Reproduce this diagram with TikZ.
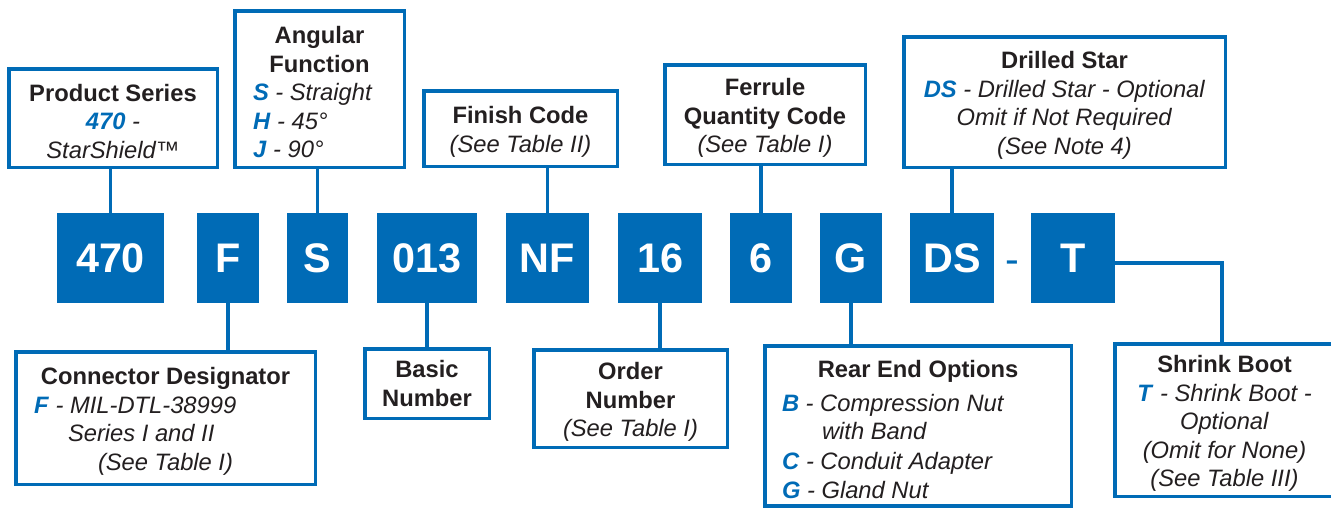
\documentclass[tikz,border=0pt]{standalone}
\usepackage{fontspec}
\setmainfont{Liberation Sans}
\usepackage{xcolor}
\usetikzlibrary{positioning}
\newlength{\pxu}
\setlength{\pxu}{0.75pt}
\definecolor{codeblue}{RGB}{0,107,182}
\definecolor{inkgray}{RGB}{35,31,32}
\newcommand{\opt}[1]{\textcolor{codeblue}{\textbf{\textit{#1}}}}
\newcommand{\topstrut}{\rule{0pt}{18pt}}
\tikzset{
  every picture/.style = {
    x = 0.75pt,
    y = -0.75pt,
  }
  , % blue code boxes
  code/.style = {
    rectangle,
    fill = codeblue,
    text = white,
    font = \fontsize{31}{31}\selectfont\bfseries,
    minimum height = 90\pxu,
    inner sep = 0pt
  }
  , % description boxes
  field/.style = {
    rectangle,
    draw = codeblue,
    line width = 3.5\pxu,
    fill = white,
    text = inkgray,
    align = center,
    font = \fontsize{17.8}{21.4}\selectfont,
    inner sep = 0pt
  }
  ,
  link/.style = {
    draw = codeblue,
    line width = 3.5\pxu
  }
}

\begin{document}
\begin{tikzpicture}
    \useasboundingbox[fill=white] (0,0) rectangle (1331,508);

    % part number
    \node [code, minimum width=107\pxu] (c470) at (110.5,258) {470};
    \node [code, minimum width=62\pxu]  (cF)   at (228,258)   {F};
    \node [code, minimum width=61\pxu]  (cS)   at (317.5,258) {S};
    \node [code, minimum width=100\pxu] (c013) at (427,258)   {013};
    \node [code, minimum width=83\pxu]  (cNF)  at (547.5,258) {NF};
    \node [code, minimum width=84\pxu]  (c16)  at (660,258)   {16};
    \node [code, minimum width=62\pxu]  (c6)   at (761,258)   {6};
    \node [code, minimum width=62\pxu]  (cG)   at (851,258)   {G};
    \node [code, minimum width=84\pxu]  (cDS)  at (952,258)   {DS};
    \node [code, minimum width=84\pxu]  (cT)   at (1073,258)  {T};
    \node [anchor=base, text=codeblue, font=\fontsize{31}{31}\selectfont, inner sep=0pt]
        (sep) at (1012.5,273) {-};

    % upper fields
    \node [field, minimum width=208.5\pxu, minimum height=98.5\pxu] (series) at (113,118)
        {\topstrut\textbf{Product Series}\\ \opt{470} \textit{-}\\ \textit{StarShield™}};
    \node [field, minimum width=169.5\pxu, minimum height=156.5\pxu] (angle) at (319.5,89)
        {\topstrut\textbf{Angular}\\ \textbf{Function}\\
         \makebox[133\pxu][l]{\opt{S} \textit{- Straight}}\\
         \makebox[133\pxu][l]{\opt{H} \textit{- 45°}}\\
         \makebox[133\pxu][l]{\opt{J} \textit{- 90°}}};
    \node [field, minimum width=193.5\pxu, minimum height=75.5\pxu] (finish) at (520.5,128.5)
        {\topstrut\textbf{Finish Code}\\ \textit{(See Table II)}};
    \node [field, minimum width=200.5\pxu, minimum height=99.5\pxu] (ferrule) at (765,114.5)
        {\topstrut\textbf{Ferrule}\\ \textbf{Quantity Code}\\ \textit{(See Table I)}};
    \node [field, minimum width=321.5\pxu, minimum height=130.5\pxu] (star) at (1064.5,102)
        {\topstrut\textbf{Drilled Star}\\ \opt{DS} \textit{- Drilled Star - Optional}\\
         \textit{Omit if Not Required}\\ \textit{(See Note 4)}};

    % lower fields
    \node [field, minimum width=299.5\pxu, minimum height=132.5\pxu] (design) at (165.5,418)
        {\topstrut\textbf{Connector Designator}\\
         \makebox[263\pxu][l]{\opt{F} \textit{- MIL-DTL-38999}}\\
         \makebox[263\pxu][l]{\hspace{34\pxu}\textit{Series I and II}}\\
         \makebox[263\pxu][l]{\hspace{64\pxu}\textit{(See Table I)}}};
    \node [field, minimum width=124.5\pxu, minimum height=69.5\pxu] (basic) at (427,383.5)
        {\textbf{Basic}\\ \textbf{Number}};
    \node [field, minimum width=193.5\pxu, minimum height=97.5\pxu] (order) at (630.5,398.5)
        {\topstrut\textbf{Order}\\ \textbf{Number}\\ \textit{(See Table I)}};
    \node [field, minimum width=306.5\pxu, minimum height=160\pxu] (rear) at (918,426)
        {\topstrut\textbf{Rear End Options}\\[5\pxu]
         \makebox[272\pxu][l]{\opt{B} \textit{- Compression Nut}}\\
         \makebox[272\pxu][l]{\hspace{40\pxu}\textit{with Band}}\\[1.5\pxu]
         \makebox[272\pxu][l]{\opt{C} \textit{- Conduit Adapter}}\\
         \makebox[272\pxu][l]{\opt{G} \textit{- Gland Nut}}};
    \node [field, minimum width=219.5\pxu, minimum height=152.5\pxu] (boot) at (1224.5,420)
        {\topstrut\textbf{Shrink Boot}\\ \opt{T} \textit{- Shrink Boot -}\\ \textit{Optional}\\
         \textit{(Omit for None)}\\ \textit{(See Table III)}};

    % connectors
    \draw [link] (c470.north) -- (c470.north |- series.south);
    \draw [link] (cS.north) -- (cS.north |- angle.south);
    \draw [link] (cNF.north) -- (cNF.north |- finish.south);
    \draw [link] (c6.north) -- (c6.north |- ferrule.south);
    \draw [link] (cDS.north) -- (cDS.north |- star.south);
    \draw [link] (cF.south) -- (cF.south |- design.north);
    \draw [link] (c013.south) -- (c013.south |- basic.north);
    \draw [link] (c16.south) -- (c16.south |- order.north);
    \draw [link] (cG.south) -- (cG.south |- rear.north);
    \draw [link] ([yshift=-3.75pt]cT.east) -| ([xshift=-1.9pt]boot.north);
\end{tikzpicture}
\end{document}
